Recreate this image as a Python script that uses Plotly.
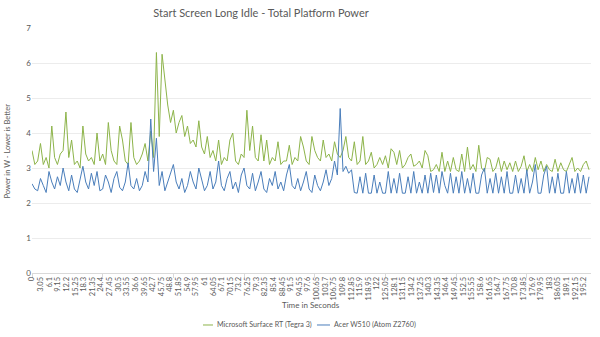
import plotly.graph_objects as go

title_text = "Start Screen Long Idle - Total Platform Power"
y_title = "Power in W - Lower is Better"
x_title = "Time in Seconds"
series_names = ["Microsoft Surface RT (Tegra 3)", "Acer W510 (Atom Z2760)"]

time_s = list(range(198))

surface_rt = [
    3.5, 3.1, 3.2, 3.7, 3.1, 3.3, 3.0, 4.2, 3.3, 3.1,
    3.4, 3.5, 4.6, 3.3, 3.8, 3.1, 3.2, 3.0, 4.2, 3.4,
    3.2, 3.3, 3.1, 4.0, 3.2, 3.4, 3.1, 4.3, 3.5, 3.2,
    3.1, 4.2, 3.8, 3.2, 3.1, 4.3, 3.3, 3.1, 3.2, 3.4,
    3.7, 3.2, 4.05, 3.3, 6.3, 3.9, 6.25, 5.5, 4.8, 4.3,
    4.65, 4.0, 4.3, 4.5, 3.9, 4.2, 3.7, 3.8, 3.6, 4.35,
    3.6, 3.4, 3.9, 3.3, 3.5, 3.2, 3.8, 3.1, 3.3, 3.2,
    3.8, 4.0, 3.2, 3.1, 3.4, 3.3, 4.65, 3.5, 4.2, 3.3,
    3.2, 3.95, 3.2, 3.8, 3.1, 3.3, 3.2, 3.75, 3.1, 3.2,
    3.2, 3.65, 3.1, 3.3, 3.2, 3.9, 3.6, 3.2, 3.1, 3.9,
    3.5, 3.3, 3.2, 3.8, 3.3, 3.4, 3.2, 3.75, 3.4, 3.3,
    3.5, 3.9, 3.3, 3.2, 3.75, 3.1, 3.2, 3.9, 3.1, 3.2,
    3.45, 3.0, 3.1, 3.3, 3.1, 3.35, 3.0, 3.55, 3.45, 3.1,
    3.5, 3.0, 3.1, 3.3, 3.4, 3.05, 3.1, 3.2, 3.0, 3.5,
    3.35, 2.9, 2.95, 3.1, 2.9, 3.45, 2.9, 3.2, 2.9, 3.3,
    2.95, 2.9, 3.4, 2.9, 3.6, 2.95, 3.1, 2.9, 3.65, 3.0,
    2.9, 3.3, 3.25, 2.9, 3.0, 3.3, 2.9, 3.2, 2.95, 3.15,
    2.9, 3.2, 2.9, 3.05, 3.35, 2.9, 3.1, 2.9, 3.3, 2.95,
    3.2, 2.9, 3.1, 2.95, 2.9, 3.25, 2.9, 3.15, 2.95, 2.9,
    3.1, 3.3, 2.9, 3.0, 2.9, 3.1, 3.2, 2.95,
]

acer_w510 = [
    2.55, 2.4, 2.35, 2.7, 2.5, 2.3, 2.9, 2.6, 2.4, 2.75,
    2.5, 3.0, 2.6, 2.35, 2.8, 2.4, 2.3, 2.7, 3.05, 2.6,
    2.4, 2.85, 2.5, 2.9, 2.35, 2.4, 2.8, 2.6, 2.3, 2.7,
    2.9, 2.45, 2.35, 2.6, 3.15, 2.5, 2.4, 2.7, 2.35, 2.5,
    2.9, 2.6, 4.4, 2.9, 3.85, 2.5, 2.9, 2.35, 2.6, 2.8,
    3.1, 2.6, 2.4, 2.7, 2.3, 2.5, 2.9, 2.6, 2.4, 3.0,
    2.7, 2.35, 2.5, 2.9, 2.4, 2.6, 3.2, 2.5, 2.35, 2.7,
    2.9, 2.4, 2.6, 2.3, 2.8, 3.0, 2.5, 2.4, 2.85, 2.35,
    2.6, 2.9, 2.4, 2.3, 2.7, 2.5, 2.9, 2.4, 2.6, 2.35,
    2.8, 3.1, 2.5, 2.4, 2.7, 2.35, 2.6, 2.9, 2.4, 2.3,
    2.8, 2.5, 2.35, 2.6, 2.95, 2.5, 2.7, 3.2, 2.8, 4.7,
    2.9, 3.05, 2.85, 2.95, 2.3, 2.28, 2.75, 2.28, 2.85, 2.28,
    2.28, 2.8, 2.28, 2.6, 2.28, 2.28, 2.9, 2.28, 2.7, 2.28,
    2.85, 2.28, 2.28, 2.75, 2.28, 2.9, 2.28, 2.6, 2.28, 2.8,
    2.28, 2.85, 2.3, 2.8, 2.28, 2.9, 2.5, 2.28, 2.85, 2.28,
    2.75, 2.28, 2.9, 2.28, 2.7, 2.28, 2.85, 2.28, 2.28, 2.8,
    3.0, 2.28, 2.7, 2.28, 2.85, 2.28, 2.75, 2.28, 2.9, 2.28,
    2.28, 2.8, 2.28, 2.7, 2.28, 2.95, 2.28, 2.6, 3.1, 2.28,
    2.28, 2.8, 3.05, 2.28, 2.75, 2.28, 2.85, 2.28, 2.28, 2.9,
    2.28, 2.7, 2.28, 2.85, 2.28, 2.8, 2.28, 2.75,
]

x_tick_vals = [0, 3.05, 6.1, 9.15, 12.2, 15.25, 18.3, 21.35, 24.4, 27.45, 30.5,
               33.55, 36.6, 39.65, 42.7, 45.75, 48.8, 51.85, 54.9, 57.95, 61,
               64.05, 67.1, 70.15, 73.2, 76.25, 79.3, 82.35, 85.4, 88.45, 91.5,
               94.55, 97.6, 100.65, 103.7, 106.75, 109.8, 112.85, 115.9, 118.95,
               122, 125.05, 128.1, 131.15, 134.2, 137.25, 140.3, 143.35, 146.4,
               149.45, 152.5, 155.55, 158.6, 161.65, 164.7, 167.75, 170.8, 173.85,
               176.9, 179.95, 183, 186.05, 189.1, 192.15, 195.2]
x_tick_text = [str(v) for v in x_tick_vals]

green = "#8DB44A"
blue = "#4A7EBB"
text_col = "#595959"
font_fam = "Lato, Open Sans, sans-serif"

fig = go.Figure()
fig.add_trace(go.Scatter(x=time_s, y=surface_rt, mode="lines", name=series_names[0],
                         line=dict(color=green, width=1), showlegend=False))
fig.add_trace(go.Scatter(x=time_s, y=acer_w510, mode="lines", name=series_names[1],
                         line=dict(color=blue, width=1), showlegend=False))

# manual legend (short line swatches like the reference)
leg_y = -0.2122
legend_items = [
    (0.3059, 0.3238, 0.3274, green, series_names[0]),
    (0.5098, 0.5331, 0.5367, blue, series_names[1]),
]
shapes = []
annotations = [
    dict(text=y_title, xref="paper", yref="paper", x=-0.043, y=0.5,
         textangle=-90, showarrow=False, xanchor="center", yanchor="middle",
         font=dict(size=7.5, color=text_col)),
    dict(text=x_title, xref="paper", yref="paper", x=0.499, y=-0.13,
         showarrow=False, xanchor="center", yanchor="middle",
         font=dict(size=8, color=text_col)),
]
for x0, x1, xt, col, name in legend_items:
    shapes.append(dict(type="line", xref="paper", yref="paper", x0=x0, x1=x1,
                       y0=leg_y, y1=leg_y, line=dict(color=col, width=1)))
    annotations.append(dict(text=name, xref="paper", yref="paper", x=xt, y=leg_y,
                            showarrow=False, xanchor="left", yanchor="middle",
                            font=dict(size=7.2, color=text_col)))

fig.update_layout(
    width=600, height=337,
    margin=dict(l=32, r=9, t=28, b=64),
    paper_bgcolor="white", plot_bgcolor="white",
    font=dict(family=font_fam, color=text_col, size=8),
    title=dict(text=title_text, x=0.435, xref="container", xanchor="center",
               y=0.962, yref="container", yanchor="middle",
               font=dict(size=11, color=text_col, family=font_fam)),
    showlegend=False,
    xaxis=dict(range=[0, 197.7], tickmode="array", tickvals=x_tick_vals,
               ticktext=x_tick_text, tickangle=-90, ticks="",
               tickfont=dict(size=7.5, color=text_col),
               showgrid=False, zeroline=False, showline=True,
               linecolor="#d9d9d9", linewidth=1,
               minor=dict(ticks="outside", tick0=0, dtick=25, ticklen=4,
                          tickcolor="#d9d9d9", showgrid=False)),
    yaxis=dict(range=[0, 7], dtick=1, showgrid=True, gridcolor="#ececec",
               gridwidth=1, zeroline=False, showline=False, ticks="",
               tickfont=dict(size=8, color=text_col)),
    shapes=shapes,
    annotations=annotations,
)

fig.write_html("out.html")
